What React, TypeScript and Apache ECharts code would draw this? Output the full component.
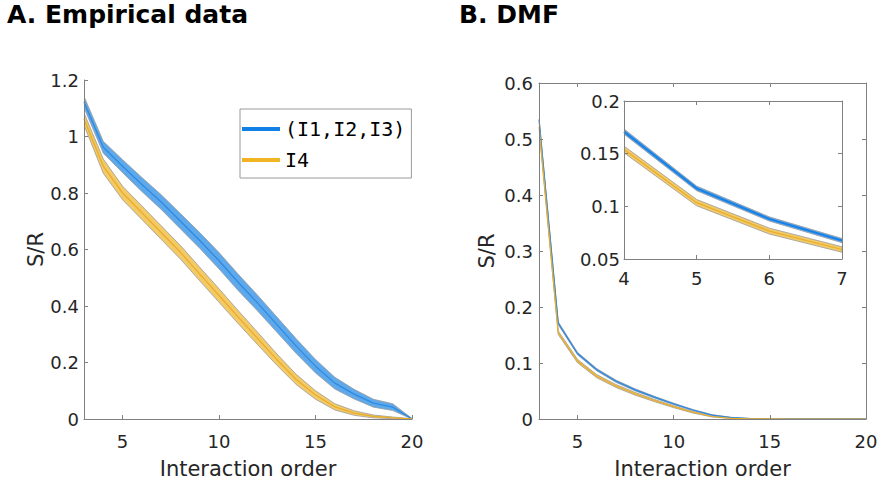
import React, { useEffect, useRef } from "react";
import * as echarts from "echarts";

// ---- data ----
const orders = [3, 4, 5, 6, 7, 8, 9, 10, 11, 12, 13, 14, 15, 16, 17, 18, 19, 20];
const xTicks = [5, 10, 15, 20];
const insetTicks = [4, 5, 6, 7];

const empBlueMean = [1.122, 0.962, 0.895, 0.83, 0.768, 0.7, 0.632, 0.56, 0.483, 0.41, 0.334, 0.258, 0.187, 0.127, 0.088, 0.056, 0.042, 0.0];
const empBlueErr = [0.02, 0.021, 0.023, 0.025, 0.026, 0.027, 0.028, 0.029, 0.029, 0.028, 0.027, 0.026, 0.024, 0.021, 0.017, 0.014, 0.012, 0.002];
const empOrangeMean = [1.062, 0.895, 0.8, 0.73, 0.66, 0.59, 0.513, 0.437, 0.36, 0.285, 0.21, 0.14, 0.085, 0.043, 0.021, 0.009, 0.004, 0.0];
const empOrangeErr = [0.022, 0.025, 0.024, 0.024, 0.024, 0.024, 0.024, 0.024, 0.023, 0.022, 0.02, 0.018, 0.015, 0.011, 0.008, 0.005, 0.003, 0.001];

const dmfBlueMean = [0.535, 0.171, 0.117, 0.088, 0.0675, 0.052, 0.039, 0.027, 0.016, 0.007, 0.0025, 0.0007, 0.0002, 0, 0, 0, 0, 0];
const dmfBlueErr = [0.003, 0.0025, 0.0022, 0.002, 0.002, 0.0018, 0.0015, 0.0013, 0.001, 0.0008, 0.0005, 0.0002, 0.0001, 0, 0, 0, 0, 0];
const dmfOrangeMean = [0.522, 0.154, 0.1035, 0.0765, 0.059, 0.045, 0.033, 0.022, 0.012, 0.0045, 0.0012, 0.0003, 0.0001, 0, 0, 0, 0, 0];
const dmfOrangeErr = [0.004, 0.0032, 0.003, 0.0028, 0.0026, 0.0024, 0.002, 0.0017, 0.0013, 0.0009, 0.0005, 0.0002, 0.0001, 0, 0, 0, 0, 0];

const blueName = "(I1,I2,I3)";
const orangeName = "I4";

// ---- styles ----
const FONT = "DejaVu Sans";
const AXIS_COLOR = "#808080";
const TEXT_COLOR = "#262626";
const BLUE_LINE = "#2f8ae0";
const BLUE_FILL = "#5ea9ec";
const ORANGE_LINE = "#e9ae2c";
const ORANGE_FILL = "#f3ca66";
const EDGE = "#9a9a9a";

function band(
  xs: number[],
  mean: number[],
  err: number[],
  name: string,
  xi: number,
  yi: number,
  lineColor: string,
  fillColor: string,
  meanWidth: number,
  z: number
) {
  const lo = xs.map((x, i) => Math.max(0, mean[i] - err[i]));
  const hi = xs.map((x, i) => mean[i] + err[i]);
  return [
    {
      type: "custom",
      xAxisIndex: xi,
      yAxisIndex: yi,
      silent: true,
      clip: true,
      z,
      data: xs.map((x, i) => [x, lo[i], hi[i]]),
      encode: { x: 0, y: [1, 2] },
      renderItem: (params: any, api: any) => {
        if (params.dataIndex !== 0) return null;
        const top = xs.map((x, i) => api.coord([x, hi[i]]));
        const bot = xs.map((x, i) => api.coord([x, lo[i]])).reverse();
        return {
          type: "polygon",
          shape: { points: top.concat(bot) },
          style: { fill: fillColor, stroke: EDGE, lineWidth: 0.8 },
        };
      },
    },
    {
      type: "line",
      name,
      xAxisIndex: xi,
      yAxisIndex: yi,
      symbol: "none",
      silent: true,
      data: xs.map((x, i) => [x, mean[i]]),
      lineStyle: { color: lineColor, width: meanWidth },
      itemStyle: { color: lineColor },
      z: z + 0.5,
    },
  ];
}

function xAxisDef(grid: number, min: number, max: number, ticks: number[], pos: string, labels: boolean, margin: number, name?: string, nameGap?: number) {
  return {
    type: "value",
    gridIndex: grid,
    position: pos,
    min,
    max,
    splitLine: { show: false },
    axisLine: { show: true, onZero: false, lineStyle: { color: AXIS_COLOR, width: 1 } },
    axisTick: { show: true, inside: true, length: 4, customValues: ticks, lineStyle: { color: AXIS_COLOR } },
    axisLabel: { show: labels, customValues: ticks, margin, fontFamily: FONT, fontSize: 18, color: TEXT_COLOR },
    name: name || "",
    nameLocation: "middle",
    nameGap: nameGap || 0,
    nameTextStyle: { fontFamily: FONT, fontSize: 21, color: TEXT_COLOR },
    z: 3,
  };
}

function yAxisDef(grid: number, min: number, max: number, interval: number, pos: string, labels: boolean, margin: number, name?: string, nameGap?: number) {
  return {
    type: "value",
    gridIndex: grid,
    position: pos,
    min,
    max,
    interval,
    splitLine: { show: false },
    axisLine: { show: true, onZero: false, lineStyle: { color: AXIS_COLOR, width: 1 } },
    axisTick: { show: true, inside: true, length: 4, lineStyle: { color: AXIS_COLOR } },
    axisLabel: { show: labels, margin, fontFamily: FONT, fontSize: 18, color: TEXT_COLOR },
    name: name || "",
    nameLocation: "middle",
    nameGap: nameGap || 0,
    nameTextStyle: { fontFamily: FONT, fontSize: 21, color: TEXT_COLOR },
    z: 3,
  };
}

export default function App() {
  const ref = useRef<HTMLDivElement>(null);

  useEffect(() => {
    if (!ref.current) return;
    const chart = echarts.init(ref.current, null, { renderer: "svg" });
    const inXs = orders.slice(1, 5);
    const series = [
      ...band(orders, empBlueMean, empBlueErr, blueName, 0, 0, BLUE_LINE, BLUE_FILL, 1.3, 1),
      ...band(orders, empOrangeMean, empOrangeErr, orangeName, 0, 0, ORANGE_LINE, ORANGE_FILL, 1.3, 1.1),
      ...band(orders, dmfBlueMean, dmfBlueErr, blueName, 1, 1, BLUE_LINE, BLUE_FILL, 1.2, 1),
      ...band(orders, dmfOrangeMean, dmfOrangeErr, orangeName, 1, 1, ORANGE_LINE, ORANGE_FILL, 1.2, 1.1),
      ...band(inXs, dmfBlueMean.slice(1, 5), dmfBlueErr.slice(1, 5), blueName, 3, 3, "#1a82e6", BLUE_FILL, 2.2, 1),
      ...band(inXs, dmfOrangeMean.slice(1, 5), dmfOrangeErr.slice(1, 5), orangeName, 3, 3, ORANGE_LINE, ORANGE_FILL, 1.2, 1.1),
    ];
    chart.setOption({
      animation: false,
      backgroundColor: "#ffffff",
      title: [
        { text: "A. Empirical data", left: 7, top: 2, padding: 0, textStyle: { fontFamily: FONT, fontSize: 25, fontWeight: "bold", color: "#000" } },
        { text: "B. DMF", left: 459, top: 2, padding: 0, textStyle: { fontFamily: FONT, fontSize: 25, fontWeight: "bold", color: "#000" } },
      ],
      legend: {
        data: [
          { name: blueName, itemStyle: { color: "#1380e6" } },
          { name: orangeName, itemStyle: { color: "#efb324" } },
        ],
        orient: "vertical",
        left: 240,
        top: 109,
        padding: [8, 6, 6, 2],
        itemGap: 7,
        itemWidth: 38,
        itemHeight: 4,
        icon: "rect",
        selectedMode: false,
        z: 10,
        backgroundColor: "#ffffff",
        borderColor: "#9a9a9a",
        borderWidth: 1,
        textStyle: { fontFamily: "DejaVu Sans Mono", fontSize: 20, color: "#000", lineHeight: 24 },
      },
      grid: [
        { left: 84, top: 80, width: 328, height: 342 },
        { left: 539, top: 83, width: 327, height: 340 },
        { left: 624, top: 101, width: 218, height: 158 },
      ],
      xAxis: [
        xAxisDef(0, 3, 20, xTicks, "bottom", true, 13, "Interaction order", 39),
        xAxisDef(1, 3, 20, xTicks, "bottom", true, 13, "Interaction order", 39),
        xAxisDef(1, 3, 20, xTicks, "top", false, 8),
        xAxisDef(2, 4, 7, insetTicks, "bottom", true, 10),
        xAxisDef(2, 4, 7, insetTicks, "top", false, 8),
      ],
      yAxis: [
        yAxisDef(0, 0, 1.2, 0.2, "left", true, 5, "S/R", 37),
        yAxisDef(1, 0, 0.6, 0.1, "left", true, 6, "S/R", 42),
        yAxisDef(1, 0, 0.6, 0.1, "right", false, 6),
        yAxisDef(2, 0.05, 0.2, 0.05, "left", true, 4),
        yAxisDef(2, 0.05, 0.2, 0.05, "right", false, 4),
      ],
      series,
    });
    return () => chart.dispose();
  }, []);

  return (
    <div
      ref={ref}
      style={{ position: "fixed", left: 0, top: 0, width: 882, height: 484, background: "#fff" }}
    />
  );
}
